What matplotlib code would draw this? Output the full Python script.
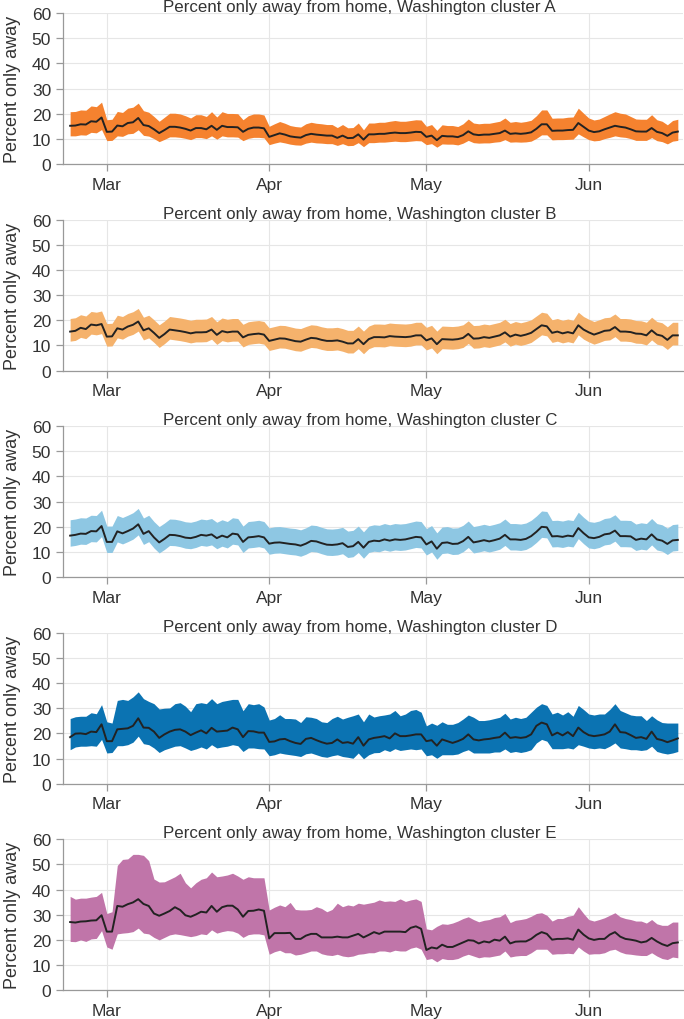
import numpy as np
import pandas as pd
import matplotlib
matplotlib.use("Agg")
import matplotlib.pyplot as plt
import matplotlib.dates as mdates

plt.rcParams['font.family'] = ['Liberation Sans', 'DejaVu Sans']

# daily values, Feb 23 - Jun 18 2020
start_date = "2020-02-23"

a_mean = [15.2, 15.3, 15.8, 15.7, 17.0, 16.8, 18.5, 12.8, 12.9, 15.3,
          15.0, 16.3, 16.6, 18.3, 15.5, 15.1, 13.8, 12.3, 13.5, 14.8,
          14.8, 14.5, 14.0, 13.3, 14.3, 14.3, 13.8, 15.2, 13.6, 15.2,
          14.7, 14.7, 14.6, 12.8, 14.0, 14.5, 14.5, 14.2, 10.8, 11.5,
          12.2, 11.7, 11.0, 10.7, 10.5, 11.5, 12.0, 11.7, 11.5, 11.3,
          11.3, 10.4, 11.3, 10.3, 10.4, 11.8, 9.7, 11.8, 11.8, 12.0,
          12.0, 12.3, 12.5, 12.3, 12.3, 12.5, 12.8, 12.7, 10.8, 11.3,
          9.5, 11.2, 11.0, 11.0, 10.7, 11.5, 13.0, 11.8, 11.5, 11.7,
          11.7, 12.0, 12.3, 13.3, 12.0, 12.2, 12.0, 12.2, 12.6, 14.0,
          15.8, 15.8, 13.2, 13.3, 13.3, 13.5, 13.6, 16.3, 14.8, 13.3,
          12.7, 13.0, 13.8, 14.5, 15.2, 14.8, 14.5, 13.8, 13.0, 12.9,
          12.9, 14.3, 12.8, 12.3, 11.2, 12.5, 12.9]
a_hi = [20.8, 20.9, 21.5, 21.4, 23.1, 22.8, 24.6, 17.6, 17.8, 20.9,
        20.5, 22.2, 22.6, 24.2, 21.2, 20.6, 18.9, 17.0, 18.6, 20.2,
        20.2, 19.9, 19.2, 18.3, 19.6, 19.6, 18.9, 20.8, 18.7, 20.8,
        20.1, 20.1, 20.0, 17.6, 19.2, 19.9, 19.9, 19.5, 15.0, 16.0,
        16.9, 16.2, 15.3, 14.9, 14.7, 16.0, 16.6, 16.2, 16.0, 15.7,
        15.7, 14.5, 15.7, 14.4, 14.5, 16.3, 13.6, 16.3, 16.3, 16.6,
        16.6, 17.0, 17.3, 17.0, 17.0, 17.3, 17.6, 17.5, 15.0, 15.7,
        13.4, 15.6, 15.3, 15.3, 14.9, 16.0, 17.9, 16.3, 16.0, 16.2,
        16.2, 16.6, 17.0, 18.3, 16.6, 16.9, 16.6, 16.9, 17.4, 19.2,
        21.5, 21.5, 18.2, 18.3, 18.3, 18.6, 18.7, 22.2, 20.2, 18.3,
        17.5, 17.9, 18.9, 19.9, 20.8, 20.2, 19.9, 18.9, 17.9, 17.8,
        17.8, 19.6, 17.6, 17.0, 15.6, 17.3, 17.8]
a_lo = [11.2, 11.2, 11.6, 11.5, 12.6, 12.4, 13.7, 9.3, 9.4, 11.2,
        11.0, 12.0, 12.2, 13.6, 11.4, 11.1, 10.1, 8.9, 9.8, 10.8,
        10.8, 10.6, 10.2, 9.7, 10.5, 10.5, 10.1, 11.2, 9.9, 11.2,
        10.8, 10.8, 10.7, 9.3, 10.2, 10.6, 10.6, 10.4, 7.7, 8.3,
        8.8, 8.4, 7.9, 7.6, 7.5, 8.3, 8.7, 8.4, 8.3, 8.1,
        8.1, 7.4, 8.1, 7.3, 7.4, 8.5, 6.9, 8.5, 8.5, 8.7,
        8.7, 8.9, 9.1, 8.9, 8.9, 9.1, 9.3, 9.2, 7.7, 8.1,
        6.7, 8.0, 7.9, 7.9, 7.6, 8.3, 9.4, 8.5, 8.3, 8.4,
        8.4, 8.7, 8.9, 9.7, 8.7, 8.8, 8.7, 8.8, 9.1, 10.2,
        11.6, 11.6, 9.6, 9.7, 9.7, 9.8, 9.9, 12.0, 10.8, 9.7,
        9.2, 9.4, 10.1, 10.6, 11.2, 10.8, 10.6, 10.1, 9.4, 9.4,
        9.4, 10.5, 9.3, 8.9, 8.0, 9.1, 9.4]

b_mean = [15.5, 15.8, 17.0, 16.5, 18.3, 18.0, 18.5, 13.5, 13.6, 16.8,
          16.3, 17.5, 18.2, 19.5, 16.0, 16.8, 15.0, 13.0, 14.5, 16.3,
          16.0, 15.7, 15.3, 14.8, 15.2, 15.2, 15.3, 16.3, 14.2, 15.7,
          15.2, 15.5, 15.5, 13.2, 14.2, 14.5, 14.7, 14.3, 11.8, 12.3,
          12.8, 12.7, 12.2, 11.7, 11.5, 12.3, 13.0, 12.8, 12.2, 11.8,
          11.8, 12.0, 11.5, 10.8, 10.8, 12.5, 10.5, 12.5, 13.3, 13.3,
          13.2, 13.7, 13.5, 13.4, 13.3, 13.5, 14.0, 14.0, 12.0, 12.8,
          10.5, 12.5, 12.4, 12.3, 12.5, 13.0, 14.6, 12.7, 12.8, 13.3,
          13.0, 13.5, 14.0, 15.2, 13.5, 14.3, 13.8, 14.3, 15.0, 16.5,
          18.0, 17.6, 15.0, 15.5, 14.8, 15.3, 14.8, 18.0, 16.3, 15.2,
          14.3, 15.0, 15.8, 16.0, 17.3, 15.5, 15.5, 15.3, 14.7, 14.6,
          14.0, 16.0, 14.3, 13.8, 12.2, 14.0, 14.0]
b_hi = [20.7, 21.0, 22.2, 21.7, 23.5, 23.2, 23.7, 18.7, 18.8, 22.0,
        21.5, 22.7, 23.4, 24.7, 21.2, 22.0, 20.2, 18.2, 19.7, 21.5,
        21.2, 20.9, 20.5, 20.0, 20.4, 20.4, 20.5, 21.5, 19.4, 20.9,
        20.4, 20.7, 20.7, 18.4, 19.4, 19.7, 19.9, 19.5, 17.0, 17.5,
        18.0, 17.9, 17.4, 16.9, 16.7, 17.5, 18.2, 18.0, 17.4, 17.0,
        17.0, 17.2, 16.7, 16.0, 16.0, 17.7, 15.7, 17.7, 18.5, 18.5,
        18.4, 18.9, 18.7, 18.6, 18.5, 18.7, 19.2, 19.2, 17.2, 18.0,
        15.7, 17.7, 17.6, 17.5, 17.7, 18.2, 19.8, 17.9, 18.0, 18.5,
        18.2, 18.7, 19.2, 20.4, 18.7, 19.5, 19.0, 19.5, 20.2, 21.7,
        23.2, 22.8, 20.2, 20.7, 20.0, 20.5, 20.0, 23.2, 21.5, 20.4,
        19.5, 20.2, 21.0, 21.2, 22.5, 20.7, 20.7, 20.5, 19.9, 19.8,
        19.2, 21.2, 19.5, 19.0, 17.4, 19.2, 19.2]
b_lo = [11.7, 12.0, 13.2, 12.7, 14.5, 14.2, 14.7, 9.7, 9.8, 13.0,
        12.5, 13.7, 14.4, 15.7, 12.2, 13.0, 11.2, 9.2, 10.7, 12.5,
        12.2, 11.9, 11.5, 11.0, 11.4, 11.4, 11.5, 12.5, 10.4, 11.9,
        11.4, 11.7, 11.7, 9.4, 10.4, 10.7, 10.9, 10.5, 8.0, 8.5,
        9.0, 8.9, 8.4, 7.9, 7.7, 8.5, 9.2, 9.0, 8.4, 8.0,
        8.0, 8.2, 7.7, 7.0, 7.0, 8.7, 6.7, 8.7, 9.5, 9.5,
        9.4, 9.9, 9.7, 9.6, 9.5, 9.7, 10.2, 10.2, 8.2, 9.0,
        6.7, 8.7, 8.6, 8.5, 8.7, 9.2, 10.8, 8.9, 9.0, 9.5,
        9.2, 9.7, 10.2, 11.4, 9.7, 10.5, 10.0, 10.5, 11.2, 12.7,
        14.2, 13.8, 11.2, 11.7, 11.0, 11.5, 11.0, 14.2, 12.5, 11.4,
        10.5, 11.2, 12.0, 12.2, 13.5, 11.7, 11.7, 11.5, 10.9, 10.8,
        10.2, 12.2, 10.5, 10.0, 8.4, 10.2, 10.2]

c_mean = [16.5, 16.8, 17.3, 17.2, 18.3, 18.2, 20.3, 14.0, 14.0, 18.2,
          17.4, 18.3, 19.3, 21.0, 17.2, 18.3, 15.8, 13.8, 15.2, 16.8,
          16.7, 16.3, 15.7, 15.5, 16.0, 16.8, 16.5, 17.0, 15.5, 16.5,
          15.8, 17.3, 17.0, 14.0, 15.8, 16.0, 16.3, 15.8, 13.3, 13.7,
          13.8, 13.5, 13.2, 13.0, 12.5, 13.3, 14.4, 14.2, 13.5, 12.9,
          12.8, 13.0, 13.5, 12.0, 12.3, 14.0, 11.7, 14.0, 14.5, 14.3,
          15.0, 14.5, 15.0, 14.8, 15.0, 15.5, 16.0, 15.8, 13.0, 14.2,
          11.3, 13.6, 13.8, 13.2, 13.3, 14.3, 16.0, 13.8, 14.2, 14.7,
          14.2, 14.7, 15.3, 16.8, 15.0, 15.0, 14.8, 15.2, 16.3, 18.0,
          20.0, 19.8, 16.2, 16.3, 16.0, 16.5, 16.2, 19.5, 17.5, 15.8,
          15.5, 16.0, 17.0, 17.3, 18.5, 16.3, 16.3, 16.2, 14.8, 15.3,
          15.0, 17.0, 15.0, 14.5, 13.2, 14.6, 14.8]
c_hi = [22.8, 23.1, 23.6, 23.5, 24.6, 24.5, 26.6, 20.3, 20.3, 24.5,
        23.7, 24.6, 25.6, 27.3, 23.5, 24.6, 22.1, 20.1, 21.5, 23.1,
        23.0, 22.6, 22.0, 21.8, 22.3, 23.1, 22.8, 23.3, 21.8, 22.8,
        22.1, 23.6, 23.3, 20.3, 22.1, 22.3, 22.6, 22.1, 19.6, 20.0,
        20.1, 19.8, 19.5, 19.3, 18.8, 19.6, 20.7, 20.5, 19.8, 19.2,
        19.1, 19.3, 19.8, 18.3, 18.6, 20.3, 18.0, 20.3, 20.8, 20.6,
        21.3, 20.8, 21.3, 21.1, 21.3, 21.8, 22.3, 22.1, 19.3, 20.5,
        17.6, 19.9, 20.1, 19.5, 19.6, 20.6, 22.3, 20.1, 20.5, 21.0,
        20.5, 21.0, 21.6, 23.1, 21.3, 21.3, 21.1, 21.5, 22.6, 24.3,
        26.3, 26.1, 22.5, 22.6, 22.3, 22.8, 22.5, 25.8, 23.8, 22.1,
        21.8, 22.3, 23.3, 23.6, 24.8, 22.6, 22.6, 22.5, 21.1, 21.6,
        21.3, 23.3, 21.3, 20.8, 19.5, 20.9, 21.1]
c_lo = [12.3, 12.6, 13.1, 13.0, 14.1, 14.0, 16.1, 9.8, 9.8, 14.0,
        13.2, 14.1, 15.1, 16.8, 13.0, 14.1, 11.6, 9.6, 11.0, 12.6,
        12.5, 12.1, 11.5, 11.3, 11.8, 12.6, 12.3, 12.8, 11.3, 12.3,
        11.6, 13.1, 12.8, 9.8, 11.6, 11.8, 12.1, 11.6, 9.1, 9.5,
        9.6, 9.3, 9.0, 8.8, 8.3, 9.1, 10.2, 10.0, 9.3, 8.7,
        8.6, 8.8, 9.3, 7.8, 8.1, 9.8, 7.5, 9.8, 10.3, 10.1,
        10.8, 10.3, 10.8, 10.6, 10.8, 11.3, 11.8, 11.6, 8.8, 10.0,
        7.1, 9.4, 9.6, 9.0, 9.1, 10.1, 11.8, 9.6, 10.0, 10.5,
        10.0, 10.5, 11.1, 12.6, 10.8, 10.8, 10.6, 11.0, 12.1, 13.8,
        15.8, 15.6, 12.0, 12.1, 11.8, 12.3, 12.0, 15.3, 13.3, 11.6,
        11.3, 11.8, 12.8, 13.1, 14.3, 12.1, 12.1, 12.0, 10.6, 11.1,
        10.8, 12.8, 10.8, 10.3, 9.0, 10.4, 10.6]

d_mean = [18.5, 19.9, 20.0, 19.7, 20.7, 20.5, 23.6, 16.9, 16.9, 21.6,
          21.8, 22.0, 23.0, 26.0, 22.3, 22.2, 20.7, 18.2, 19.6, 20.7,
          21.4, 21.6, 20.7, 19.3, 20.3, 21.2, 20.0, 22.2, 20.7, 20.9,
          21.1, 22.3, 21.6, 18.5, 20.9, 20.8, 20.3, 20.3, 16.6, 16.8,
          17.6, 17.8, 16.9, 16.2, 15.8, 17.8, 18.2, 17.3, 16.5, 15.9,
          16.2, 17.6, 16.2, 16.5, 15.9, 18.5, 15.1, 17.6, 18.2, 18.5,
          18.9, 18.0, 20.0, 18.9, 18.9, 19.2, 19.6, 19.6, 16.9, 17.3,
          15.1, 17.6, 16.9, 16.2, 16.9, 17.8, 19.6, 17.6, 17.2, 17.6,
          17.8, 18.2, 18.5, 20.3, 18.2, 18.5, 18.2, 18.5, 19.6, 23.0,
          24.3, 23.6, 19.2, 20.3, 19.2, 20.5, 18.9, 22.3, 20.5, 19.3,
          18.9, 19.2, 19.6, 20.7, 23.6, 20.5, 20.3, 19.3, 18.2, 18.5,
          17.8, 20.7, 17.8, 17.3, 16.5, 17.2, 18.0]
d_hi = [25.9, 26.6, 26.8, 26.8, 28.2, 27.8, 31.4, 24.6, 24.1, 33.1,
        33.5, 33.1, 34.5, 36.5, 33.8, 32.7, 31.8, 29.7, 30.0, 30.1,
        31.8, 32.2, 30.8, 28.6, 31.8, 32.2, 31.8, 33.8, 31.8, 32.7,
        33.1, 33.5, 33.5, 29.0, 31.8, 31.4, 31.8, 30.5, 25.3, 25.9,
        27.4, 25.9, 25.9, 25.7, 24.3, 26.6, 26.4, 25.9, 24.6, 24.3,
        25.9, 26.8, 25.7, 26.4, 27.0, 27.7, 24.6, 27.7, 26.5, 27.0,
        27.3, 27.7, 29.1, 27.0, 27.7, 29.1, 29.5, 28.4, 23.0, 24.1,
        23.2, 24.6, 23.6, 23.6, 24.3, 25.7, 27.3, 26.4, 25.1, 25.1,
        25.4, 25.9, 26.4, 28.0, 25.7, 26.4, 25.9, 26.4, 28.4, 30.4,
        31.8, 31.1, 27.7, 28.4, 27.3, 28.6, 26.8, 31.1, 29.5, 27.7,
        27.3, 27.7, 27.7, 29.5, 31.8, 29.1, 28.2, 27.3, 27.0, 27.0,
        25.1, 27.0, 25.4, 24.3, 24.1, 24.1, 24.1]
d_lo = [13.5, 14.6, 14.9, 14.9, 15.1, 14.9, 17.6, 12.2, 12.4, 15.1,
        15.1, 15.5, 16.5, 18.9, 15.9, 15.5, 14.2, 12.4, 13.5, 14.2,
        14.9, 15.1, 14.2, 13.2, 13.8, 14.6, 13.8, 15.5, 14.2, 14.6,
        14.9, 15.5, 15.1, 12.8, 14.2, 14.2, 13.9, 13.8, 11.1, 11.5,
        12.2, 11.8, 11.5, 11.2, 10.8, 11.9, 12.2, 11.5, 10.8, 10.5,
        11.1, 11.5, 10.8, 10.5, 10.1, 12.2, 9.9, 11.5, 12.3, 12.4,
        13.5, 12.8, 13.9, 13.2, 13.5, 13.8, 13.5, 13.8, 11.1, 11.5,
        10.1, 11.5, 11.5, 11.5, 11.8, 12.8, 13.5, 12.2, 12.2, 12.2,
        12.2, 12.6, 12.6, 13.8, 12.4, 12.8, 12.4, 12.8, 13.5, 16.2,
        17.6, 16.9, 13.9, 13.9, 13.9, 14.2, 13.8, 15.5, 14.9, 14.2,
        13.9, 14.2, 13.9, 14.9, 16.2, 14.2, 13.9, 13.5, 13.5, 13.2,
        13.5, 14.9, 12.8, 12.2, 11.8, 12.2, 12.8]

e_mean = [27.1, 26.9, 27.3, 27.4, 27.7, 27.8, 29.8, 23.3, 23.3, 33.5,
          33.2, 34.2, 34.9, 36.2, 34.3, 33.5, 30.5, 29.6, 30.5, 31.5,
          33.0, 31.9, 29.8, 29.2, 30.1, 31.2, 30.9, 33.5, 31.2, 33.0,
          33.6, 33.6, 32.1, 29.2, 31.5, 31.6, 32.1, 31.6, 20.6, 22.7,
          22.7, 22.7, 22.8, 20.4, 20.4, 21.7, 22.4, 22.4, 21.0, 21.0,
          21.0, 21.3, 21.0, 21.0, 21.7, 22.4, 21.0, 22.0, 23.1, 22.4,
          23.3, 23.3, 23.3, 23.3, 23.1, 24.8, 25.4, 24.4, 16.0, 17.0,
          16.6, 18.1, 17.2, 17.2, 18.1, 19.0, 19.9, 19.7, 18.6, 19.4,
          19.0, 20.1, 19.7, 21.3, 18.6, 19.3, 19.4, 19.4, 20.4, 22.0,
          23.1, 22.4, 20.1, 20.4, 20.4, 20.6, 20.1, 24.1, 22.1, 20.6,
          20.0, 20.4, 20.4, 22.1, 23.1, 21.3, 20.4, 20.1, 19.7, 19.0,
          19.4, 20.8, 19.4, 18.3, 17.6, 18.7, 19.0]
e_hi = [37.3, 36.2, 36.6, 36.6, 37.0, 37.3, 38.9, 30.5, 31.2, 49.6,
        52.0, 52.2, 54.0, 54.0, 53.6, 51.5, 44.2, 43.0, 43.1, 44.1,
        45.1, 46.5, 42.7, 40.7, 42.7, 44.1, 44.7, 47.0, 45.1, 45.4,
        45.8, 46.5, 45.4, 44.1, 45.1, 44.7, 44.7, 44.7, 31.9, 33.0,
        33.9, 33.2, 34.9, 32.1, 31.9, 31.9, 32.1, 33.2, 32.5, 31.2,
        32.1, 34.6, 33.2, 33.9, 33.5, 34.6, 34.2, 34.6, 35.0, 35.9,
        35.3, 35.5, 35.3, 36.3, 35.3, 35.9, 36.3, 35.3, 24.4, 24.0,
        25.4, 26.4, 26.2, 26.7, 27.5, 28.5, 29.2, 28.1, 27.2, 27.8,
        28.1, 28.9, 29.2, 30.5, 26.9, 27.8, 28.1, 28.5, 29.4, 30.5,
        30.8, 29.8, 27.5, 28.5, 28.5, 29.4, 29.8, 33.2, 30.5, 28.1,
        27.5, 28.1, 28.8, 29.8, 30.8, 29.2, 28.5, 28.1, 27.5, 27.5,
        26.7, 28.1, 26.4, 25.8, 25.8, 27.1, 27.1]
e_lo = [19.4, 19.3, 20.0, 19.4, 20.4, 20.6, 23.7, 17.2, 16.3, 22.4,
        22.7, 22.9, 23.3, 24.7, 22.7, 22.4, 21.0, 20.0, 21.0, 22.0,
        22.4, 22.1, 21.7, 21.3, 21.7, 22.4, 22.1, 24.0, 22.7, 23.3,
        23.7, 23.5, 22.7, 21.0, 22.1, 22.4, 22.4, 22.0, 14.3, 15.3,
        15.9, 14.9, 14.9, 14.0, 14.3, 14.9, 15.6, 15.6, 14.5, 14.0,
        13.8, 14.3, 13.6, 13.3, 13.6, 14.3, 14.5, 14.9, 14.9, 15.6,
        15.6, 15.2, 15.9, 15.6, 15.6, 16.7, 17.2, 16.3, 12.2, 12.6,
        11.3, 12.6, 12.2, 12.2, 12.6, 13.6, 14.3, 13.6, 12.9, 13.3,
        13.2, 13.6, 14.0, 15.6, 13.2, 13.6, 13.8, 13.8, 14.9, 16.3,
        16.3, 16.3, 14.3, 14.5, 14.5, 14.7, 14.5, 17.2, 15.6, 14.3,
        14.5, 14.5, 14.9, 15.9, 16.3, 15.2, 14.5, 14.3, 14.0, 13.8,
        13.8, 14.9, 13.6, 12.6, 12.2, 13.2, 12.9]

clusters = ["A", "B", "C", "D", "E"]
colors = ["#F5822F", "#F5B26C", "#8EC7E3", "#0B73B2", "#C075A9"]
means = [a_mean, b_mean, c_mean, d_mean, e_mean]
highs = [a_hi, b_hi, c_hi, d_hi, e_hi]
lows = [a_lo, b_lo, c_lo, d_lo, e_lo]
y_ticks = [0, 10, 20, 30, 40, 50, 60]

dates = pd.date_range(start_date, periods=len(a_mean), freq="D")

fig = plt.figure(figsize=(6.84, 10.2), dpi=100)

for i, name in enumerate(clusters):
    ax = fig.add_axes([0.092, 0.8382 - i * 0.2025, 0.906, 0.148])
    ax.fill_between(dates, lows[i], highs[i], color=colors[i], linewidth=0)
    ax.plot(dates, means[i], color="#222222", linewidth=1.4)

    ax.set_ylim(0, 60)
    ax.set_yticks(y_ticks)
    ax.set_xlim(pd.Timestamp("2020-02-21 15:00"), pd.Timestamp("2020-06-18 22:00"))
    ax.xaxis.set_major_locator(mdates.MonthLocator())
    ax.xaxis.set_major_formatter(mdates.DateFormatter("%b"))

    ax.grid(True, color="#e6e6e6", linewidth=0.8)
    ax.set_axisbelow(True)
    for side in ["top", "right"]:
        ax.spines[side].set_visible(False)
    for side in ["left", "bottom"]:
        ax.spines[side].set_color("#999999")
        ax.spines[side].set_linewidth(0.9)
    ax.tick_params(axis="both", colors="#999999", length=5, width=0.9,
                   labelsize=12.5, labelcolor="#333333")
    ax.tick_params(axis="x", pad=4)
    ax.set_ylabel("Percent only away", fontsize=13, color="#333333", labelpad=8)
    ax.text(0.479, 1.012, f"Percent only away from home, Washington cluster {name}",
            transform=ax.transAxes, ha="center", va="baseline", fontsize=12.2,
            color="#333333")

fig.savefig("out.png", dpi=100)
